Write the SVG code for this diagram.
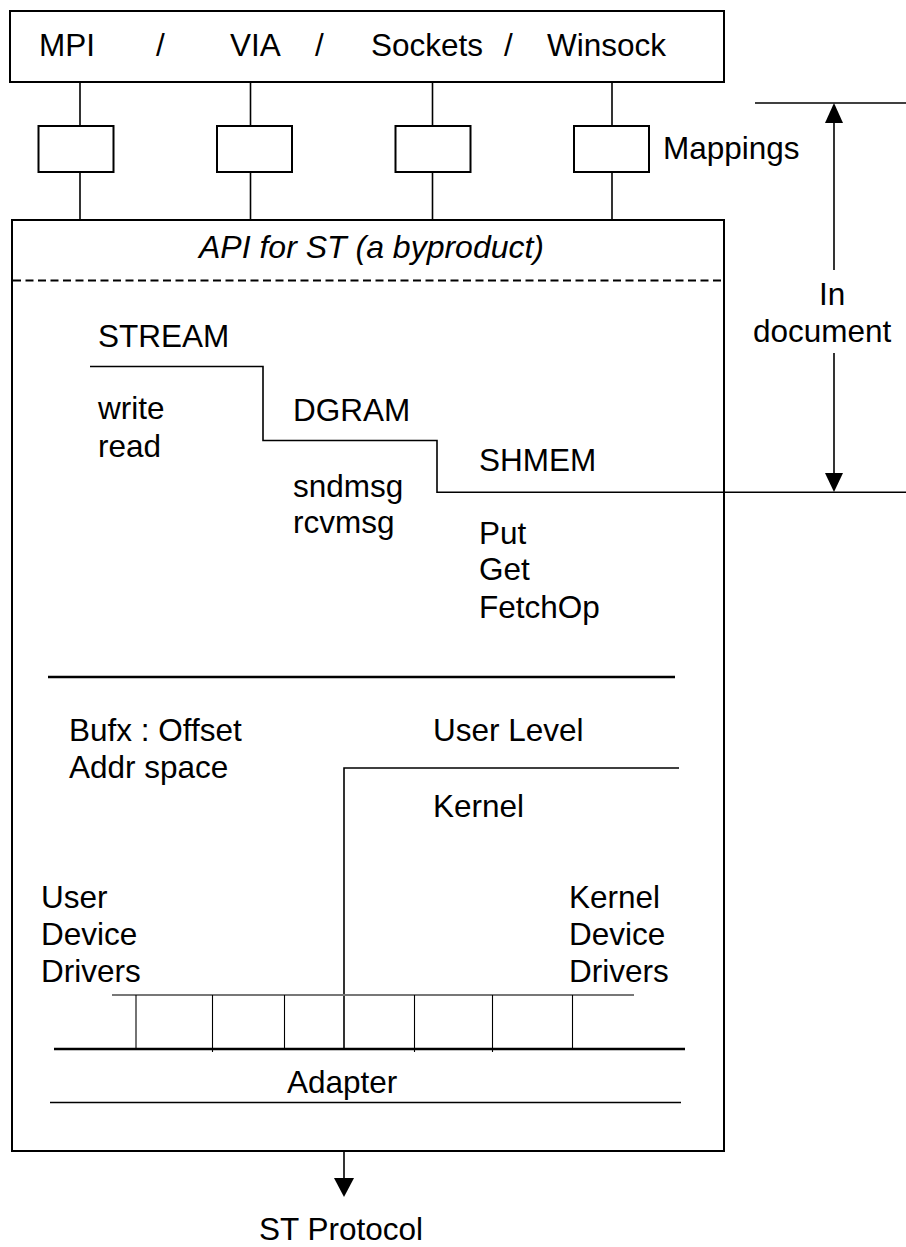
<svg xmlns="http://www.w3.org/2000/svg" width="906" height="1247" viewBox="0 0 906 1247">
  <style>
    text { font-family: "Liberation Sans", Arial, sans-serif; font-size: 31.5px; fill: #000; }
    .it { font-style: italic; font-size: 32px; }
    .box { fill: #fff; stroke: #000; stroke-width: 2; }
    .ln { stroke: #000; stroke-width: 1.6; fill: none; }
    .thick { stroke: #000; stroke-width: 2.4; fill: none; }
    .thin { stroke: #000; stroke-width: 1.1; fill: none; }
    .gray { stroke: #777; stroke-width: 2; fill: none; }
    .dash { stroke: #000; stroke-width: 1.8; stroke-dasharray: 8 4.5; fill: none; }
    .head { fill: #000; stroke: none; }
  </style>

  <!-- connectors between the interface bar, the mapping boxes and the ST box -->
  <g id="connectors">
    <line class="ln" x1="80" y1="82" x2="80" y2="220"/>
    <line class="ln" x1="250.5" y1="82" x2="250.5" y2="220"/>
    <line class="ln" x1="432.5" y1="82" x2="432.5" y2="220"/>
    <line class="ln" x1="612" y1="82" x2="612" y2="220"/>
    <!-- output to the wire protocol -->
    <line class="ln" x1="344" y1="1151" x2="344" y2="1180"/>
    <polygon class="head" points="334,1178 354,1178 344,1197"/>
  </g>

  <g id="interfaces">
    <rect class="box" x="10" y="11" width="714" height="71"/>
    <text x="39" y="56">MPI</text>
    <text x="156" y="56">/</text>
    <text x="230" y="56">VIA</text>
    <text x="315" y="56">/</text>
    <text x="371" y="56">Sockets</text>
    <text x="504" y="56">/</text>
    <text x="547" y="56">Winsock</text>
  </g>

  <g id="mappings">
    <rect class="box" x="38.5" y="126" width="75" height="46"/>
    <rect class="box" x="217" y="126" width="75" height="46"/>
    <rect class="box" x="395.5" y="126" width="75" height="46"/>
    <rect class="box" x="574" y="126" width="75" height="46"/>
    <text x="663" y="159">Mappings</text>
  </g>

  <g id="st-box">
    <rect class="box" x="12" y="220" width="712" height="931"/>
    <text class="it" x="199" y="258">API for ST (a byproduct)</text>
    <line class="dash" x1="13" y1="280.5" x2="724" y2="280.5"/>
  </g>

  <g id="services">
    <!-- stepped separator STREAM / DGRAM / SHMEM -->
    <polyline class="ln" points="90,366.5 263,366.5 263,440.5 437,440.5 437,492.3 906,492.3"/>
    <text x="98" y="347">STREAM</text>
    <text x="98" y="419">write</text>
    <text x="98" y="457">read</text>
    <text x="293" y="421">DGRAM</text>
    <text x="293" y="497">sndmsg</text>
    <text x="293" y="533">rcvmsg</text>
    <text x="479" y="471">SHMEM</text>
    <text x="479" y="544">Put</text>
    <text x="479" y="580">Get</text>
    <text x="479" y="618">FetchOp</text>
  </g>

  <g id="addressing">
    <line class="thick" x1="48" y1="677" x2="675" y2="677"/>
    <text x="69" y="741">Bufx : Offset</text>
    <text x="69" y="778">Addr space</text>
    <text x="433" y="741">User Level</text>
    <polyline class="ln" points="679,768 344,768 344,1049"/>
    <text x="433" y="817">Kernel</text>
  </g>

  <g id="drivers">
    <text x="41" y="908">User</text>
    <text x="41" y="945">Device</text>
    <text x="41" y="982">Drivers</text>
    <text x="569" y="908">Kernel</text>
    <text x="569" y="945">Device</text>
    <text x="569" y="982">Drivers</text>
    <line class="gray" x1="112" y1="995" x2="634" y2="995"/>
    <line class="thin" x1="136" y1="995" x2="136" y2="1050"/>
    <line class="thin" x1="212.5" y1="995" x2="212.5" y2="1052"/>
    <line class="thin" x1="284.5" y1="995" x2="284.5" y2="1050"/>
    <line class="thin" x1="414.5" y1="995" x2="414.5" y2="1052"/>
    <line class="thin" x1="492.5" y1="995" x2="492.5" y2="1052"/>
    <line class="thin" x1="572.5" y1="995" x2="572.5" y2="1050"/>
  </g>

  <g id="adapter">
    <line class="thick" x1="54" y1="1049" x2="685" y2="1049"/>
    <text x="287" y="1093">Adapter</text>
    <line class="ln" x1="50" y1="1102.5" x2="681" y2="1102.5"/>
  </g>

  <g id="protocol">
    <text x="259" y="1240">ST Protocol</text>
  </g>

  <!-- extent of the part covered by the document -->
  <g id="document-extent">
    <line class="ln" x1="755" y1="103" x2="906" y2="103"/>
    <line class="ln" x1="834" y1="120" x2="834" y2="270"/>
    <polygon class="head" points="825,123 843,123 834,103"/>
    <text x="819" y="305">In</text>
    <text x="753" y="342">document</text>
    <line class="ln" x1="834" y1="353" x2="834" y2="476"/>
    <polygon class="head" points="825,473 843,473 834,492"/>
  </g>
</svg>
